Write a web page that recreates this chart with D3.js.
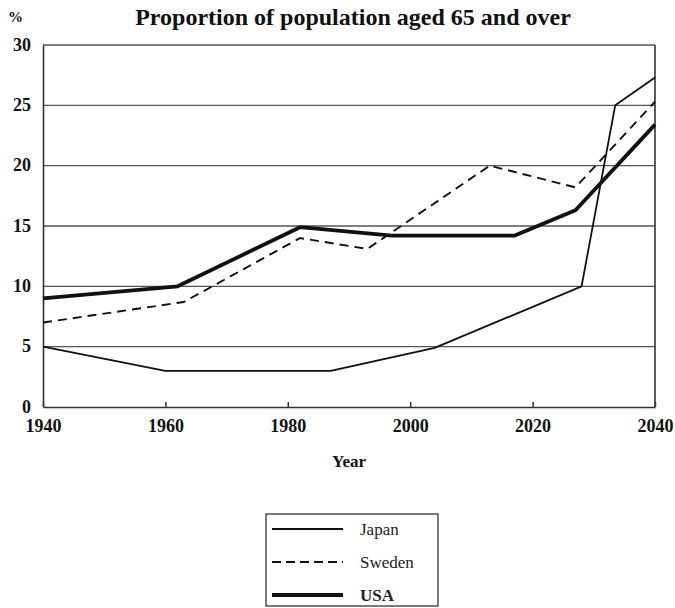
<!DOCTYPE html>
<html>
<head>
<meta charset="utf-8">
<script src="https://cdn.jsdelivr.net/npm/d3@7"></script>
<style>
  body { margin: 0; background: #fff; }
  text { font-family: "Liberation Serif", "DejaVu Serif", serif; }
</style>
</head>
<body>
<svg></svg>
<script>
let width = 675
let height = 608

// values
let japanYears = [1940, 1960, 1987, 2004, 2028, 2033.5, 2040]
let japanValues = [5, 3, 3, 4.9, 10, 25, 27.3]
let swedenYears = [1940, 1963, 1982, 1993, 2013, 2027, 2040]
let swedenValues = [7, 8.7, 14, 13.1, 20, 18.2, 25.3]
let usaYears = [1940, 1962, 1982, 1997, 2017, 2027, 2040]
let usaValues = [9, 10, 14.9, 14.2, 14.2, 16.3, 23.4]
let xTicks = [1940, 1960, 1980, 2000, 2020, 2040]
let yTicks = [0, 5, 10, 15, 20, 25, 30]
let seriesNames = ['Japan', 'Sweden', 'USA']

let svg = d3.select('svg')
svg.attr('width', width).attr('height', height)

let xScale = d3.scaleLinear().domain([1940, 2040]).range([43, 655])
let yScale = d3.scaleLinear().domain([0, 30]).range([407, 45])

let zip = (xs, ys) => xs.map((x, i) => ({ year: x, value: ys[i] }))

let series = [
    { name: 'Japan', data: zip(japanYears, japanValues), width: 1.8, dash: null },
    { name: 'Sweden', data: zip(swedenYears, swedenValues), width: 1.9, dash: '9,6' },
    { name: 'USA', data: zip(usaYears, usaValues), width: 3.8, dash: null }
]

// grid lines
svg.append('g')
    .selectAll('line')
    .data(yTicks.filter(d => d > 0))
    .enter()
    .append('line')
    .attr('x1', xScale(1940))
    .attr('x2', xScale(2040))
    .attr('y1', d => yScale(d))
    .attr('y2', d => yScale(d))
    .attr('stroke', '#555')
    .attr('stroke-width', 1.3)

// right border
svg.append('line')
    .attr('x1', xScale(2040)).attr('x2', xScale(2040))
    .attr('y1', yScale(30)).attr('y2', yScale(0))
    .attr('stroke', '#333').attr('stroke-width', 1.6)

let xAxis = d3.axisBottom(xScale).tickValues(xTicks).tickFormat(d3.format('d')).tickSize(-5).tickSizeOuter(0)
let yAxis = d3.axisLeft(yScale).tickValues(yTicks).tickSize(0)

let gx = svg.append('g')
    .attr('transform', 'translate(0,' + yScale(0) + ')')
    .call(xAxis)
gx.select('.domain').attr('stroke', '#333').attr('stroke-width', 1.6)
gx.selectAll('.tick line').attr('stroke', '#333').attr('stroke-width', 1.5)
gx.selectAll('.tick text')
    .attr('dy', 0).attr('y', 25)
    .style('font-size', '18px').style('font-weight', 'bold').attr('fill', '#111')

let gy = svg.append('g')
    .attr('transform', 'translate(' + xScale(1940) + ',0)')
    .call(yAxis)
gy.select('.domain').attr('stroke', '#333').attr('stroke-width', 1.6)
gy.selectAll('.tick text')
    .attr('x', -12).attr('dy', '0.28em')
    .style('font-size', '18px').style('font-weight', 'bold').attr('fill', '#111')

// lines
let line = d3.line()
    .x(d => xScale(d.year))
    .y(d => yScale(d.value))

svg.selectAll('path.series')
    .data(series)
    .enter()
    .append('path')
    .attr('class', 'series')
    .attr('d', d => line(d.data))
    .attr('fill', 'none')
    .attr('stroke', '#111')
    .attr('stroke-width', d => d.width)
    .attr('stroke-dasharray', d => d.dash)
    .attr('stroke-linejoin', 'round')

// titles
svg.append('text')
    .attr('x', 353)
    .attr('y', 25)
    .attr('text-anchor', 'middle')
    .style('font-size', '24px')
    .style('font-weight', 'bold')
    .attr('fill', '#111')
    .text('Proportion of population aged 65 and over')

svg.append('text')
    .attr('x', 8)
    .attr('y', 22)
    .style('font-size', '15px')
    .style('font-weight', 'bold')
    .attr('fill', '#111')
    .text('%')

svg.append('text')
    .attr('x', 349)
    .attr('y', 467)
    .attr('text-anchor', 'middle')
    .style('font-size', '17px')
    .style('font-weight', 'bold')
    .attr('fill', '#111')
    .text('Year')

// legend
let legend = svg.append('g')
legend.append('rect')
    .attr('x', 266).attr('y', 514)
    .attr('width', 172).attr('height', 92)
    .attr('fill', 'none').attr('stroke', '#333').attr('stroke-width', 1.3)

let rows = legend.selectAll('g.row')
    .data(series)
    .enter()
    .append('g')
    .attr('class', 'row')
    .attr('transform', (d, i) => 'translate(0,' + (529 + i * 33) + ')')

rows.append('line')
    .attr('x1', 272).attr('x2', 343)
    .attr('y1', 0).attr('y2', 0)
    .attr('stroke', '#111')
    .attr('stroke-width', d => d.width + 0.2)
    .attr('stroke-dasharray', d => d.dash ? '9,5' : null)

rows.append('text')
    .attr('x', 360)
    .attr('y', 6)
    .style('font-size', '17px')
    .attr('fill', '#222')
    .style('font-weight', d => d.name === 'USA' ? 'bold' : 'normal')
    .text((d, i) => seriesNames[i])
</script>
</body>
</html>
